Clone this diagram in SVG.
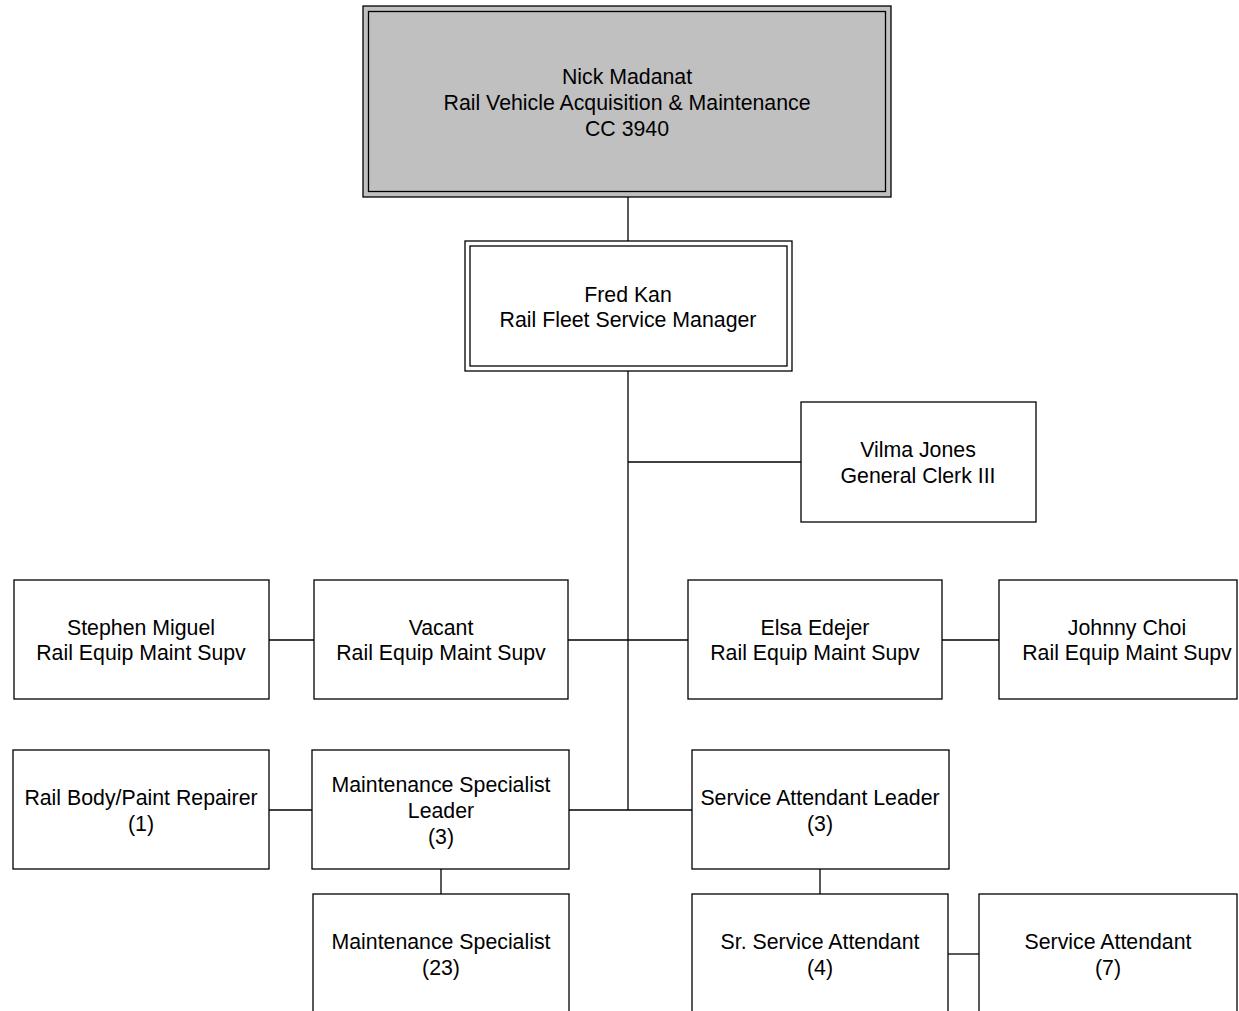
<svg xmlns="http://www.w3.org/2000/svg" width="1239" height="1011" viewBox="0 0 1239 1011">
<style>
rect{fill:#fff;stroke:#000;stroke-width:1.3}
rect.gray{fill:#c0c0c0}
rect.in{fill:none}
line{stroke:#000;stroke-width:1.3}
text{font-family:"Liberation Sans",Arial,sans-serif;font-size:21.3px;fill:#000;text-anchor:middle}
</style>
<rect width="1239" height="1011" style="fill:#fff;stroke:none"/>
<g id="connectors">
<line x1="628" y1="197" x2="628" y2="241"/>
<line x1="628" y1="371" x2="628" y2="810"/>
<line x1="628" y1="462" x2="801" y2="462"/>
<line x1="269" y1="640" x2="314" y2="640"/>
<line x1="568" y1="640" x2="688" y2="640"/>
<line x1="942" y1="640" x2="999" y2="640"/>
<line x1="269" y1="810" x2="312" y2="810"/>
<line x1="569" y1="810" x2="692" y2="810"/>
<line x1="441" y1="869" x2="441" y2="894"/>
<line x1="820" y1="869" x2="820" y2="894"/>
<line x1="948" y1="954" x2="979" y2="954"/>
</g>
<g id="nick">
<rect class="gray" x="363" y="6" width="528" height="191"/>
<rect class="in" x="368.5" y="11.5" width="517" height="180"/>
<text x="627" y="83.5">Nick Madanat</text>
<text x="627" y="109.5">Rail Vehicle Acquisition &amp; Maintenance</text>
<text x="627" y="135.5">CC 3940</text>
</g>
<g id="fred">
<rect x="465" y="241" width="327" height="130"/>
<rect class="in" x="470" y="246" width="317" height="120"/>
<text x="628" y="301.5">Fred Kan</text>
<text x="628" y="326.5">Rail Fleet Service Manager</text>
</g>
<g id="vilma">
<rect x="801" y="402" width="235" height="120"/>
<text x="918" y="456.5">Vilma Jones</text>
<text x="918" y="482.5">General Clerk III</text>
</g>
<g id="stephen">
<rect x="14" y="580" width="255" height="119"/>
<text x="141" y="634.5">Stephen Miguel</text>
<text x="141" y="659.5">Rail Equip Maint Supv</text>
</g>
<g id="vacant">
<rect x="314" y="580" width="254" height="119"/>
<text x="441" y="634.5">Vacant</text>
<text x="441" y="659.5">Rail Equip Maint Supv</text>
</g>
<g id="elsa">
<rect x="688" y="580" width="254" height="119"/>
<text x="815" y="634.5">Elsa Edejer</text>
<text x="815" y="659.5">Rail Equip Maint Supv</text>
</g>
<g id="johnny">
<rect x="999" y="580" width="238" height="119"/>
<text x="1127" y="634.5">Johnny Choi</text>
<text x="1127" y="659.5">Rail Equip Maint Supv</text>
</g>
<g id="bodypaint">
<rect x="13" y="750" width="256" height="119"/>
<text x="141" y="804.5">Rail Body/Paint Repairer</text>
<text x="141" y="830.5">(1)</text>
</g>
<g id="msleader">
<rect x="312" y="750" width="257" height="119"/>
<text x="441" y="791.5">Maintenance Specialist</text>
<text x="441" y="817.5">Leader</text>
<text x="441" y="843.5">(3)</text>
</g>
<g id="saleader">
<rect x="692" y="750" width="257" height="119"/>
<text x="820" y="804.5">Service Attendant Leader</text>
<text x="820" y="830.5">(3)</text>
</g>
<g id="ms">
<rect x="313" y="894" width="256" height="130"/>
<text x="441" y="948.5">Maintenance Specialist</text>
<text x="441" y="974.5">(23)</text>
</g>
<g id="srsa">
<rect x="692" y="894" width="256" height="130"/>
<text x="820" y="948.5">Sr. Service Attendant</text>
<text x="820" y="974.5">(4)</text>
</g>
<g id="sa">
<rect x="979" y="894" width="258" height="130"/>
<text x="1108" y="948.5">Service Attendant</text>
<text x="1108" y="974.5">(7)</text>
</g>
</svg>
